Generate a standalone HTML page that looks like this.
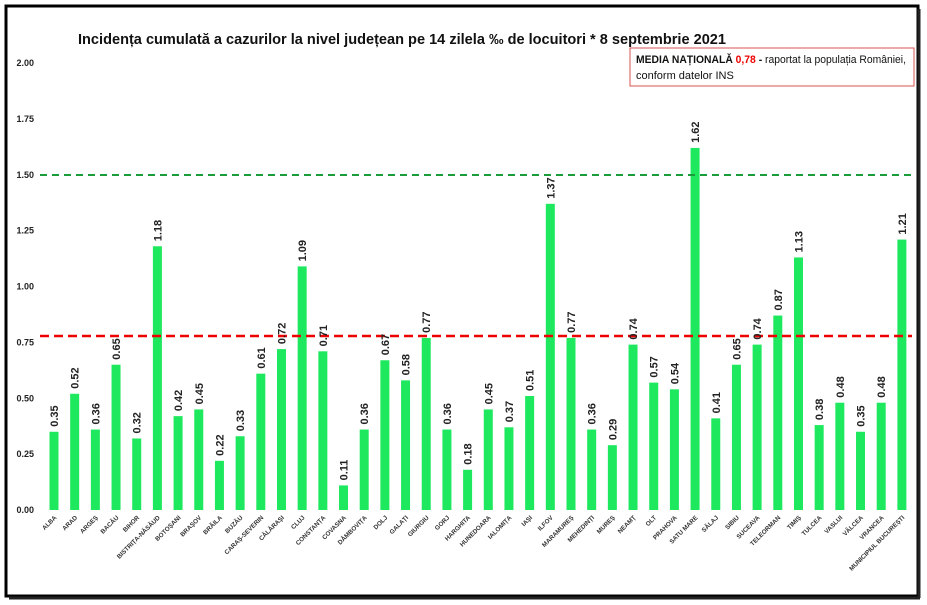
<!DOCTYPE html>
<html><head><meta charset="utf-8"><style>
body{margin:0;background:#fff;}
svg{display:block;font-family:"Liberation Sans",Arial,sans-serif;}
</style></head><body>
<svg width="927" height="605" viewBox="0 0 927 605">
<rect x="0" y="0" width="927" height="605" fill="#fff"/>
<rect x="6" y="6" width="912" height="590" fill="none" stroke="#000" stroke-width="3"/>
<line x1="919" y1="9" x2="919" y2="598" stroke="#222" stroke-width="3"/>
<line x1="9" y1="598" x2="920" y2="598" stroke="#222" stroke-width="3"/>
<text x="78" y="44" font-size="15" font-weight="bold" fill="#111" textLength="648" lengthAdjust="spacingAndGlyphs">Incidența cumulată a cazurilor la nivel județean pe 14 zilela ‰ de locuitori * 8 septembrie 2021</text>
<rect x="630" y="48" width="284" height="38" fill="#fff" stroke="#d9534f" stroke-width="1"/>
<text x="636" y="63" font-size="11" fill="#111" textLength="270" lengthAdjust="spacingAndGlyphs"><tspan font-weight="bold">MEDIA NAȚIONALĂ </tspan><tspan font-weight="bold" fill="#e00">0,78</tspan><tspan font-weight="bold"> - </tspan>raportat la populația României,</text>
<text x="636" y="79" font-size="11" fill="#111">conform datelor INS</text>
<g font-size="9" font-weight="bold" fill="#222" text-anchor="end" id="yt"></g>
<g id="bars"></g>
<line x1="40" y1="175" x2="912" y2="175" stroke="#1a9c3a" stroke-width="2" stroke-dasharray="7,5"/>
<line x1="40" y1="336" x2="912" y2="336" stroke="#e00" stroke-width="2.5" stroke-dasharray="9,5"/>
<g id="vals"></g>
<g id="labs"></g>
</svg>
<script>
const v=[0.35,0.52,0.36,0.65,0.32,1.18,0.42,0.45,0.22,0.33,0.61,0.72,1.09,0.71,0.11,0.36,0.67,0.58,0.77,0.36,0.18,0.45,0.37,0.51,1.37,0.77,0.36,0.29,0.74,0.57,0.54,1.62,0.41,0.65,0.74,0.87,1.13,0.38,0.48,0.35,0.48,1.21];
const n=["ALBA","ARAD","ARGEȘ","BACĂU","BIHOR","BISTRIȚA-NĂSĂUD","BOTOȘANI","BRAȘOV","BRĂILA","BUZĂU","CARAȘ-SEVERIN","CĂLĂRAȘI","CLUJ","CONSTANȚA","COVASNA","DÂMBOVIȚA","DOLJ","GALAȚI","GIURGIU","GORJ","HARGHITA","HUNEDOARA","IALOMIȚA","IAȘI","ILFOV","MARAMUREȘ","MEHEDINȚI","MUREȘ","NEAMȚ","OLT","PRAHOVA","SATU MARE","SĂLAJ","SIBIU","SUCEAVA","TELEORMAN","TIMIȘ","TULCEA","VASLUI","VÂLCEA","VRANCEA","MUNICIPIUL BUCUREȘTI"];
const NS="http://www.w3.org/2000/svg";
function el(p,t,a,txt){const e=document.createElementNS(NS,t);for(const k in a)e.setAttribute(k,a[k]);if(txt!=null)e.textContent=txt;document.getElementById(p).appendChild(e);}
const y0=510,sc=223.5;
["0.00","0.25","0.50","0.75","1.00","1.25","1.50","1.75","2.00"].forEach((t,i)=>el("yt","text",{x:34,y:y0-i*0.25*sc+3},t));
v.forEach((d,i)=>{const cx=54+i*20.68,h=d*sc;
el("bars","rect",{x:cx-4.5,y:y0-h,width:9,height:h,fill:"#1ee85e"});
el("vals","text",{transform:`translate(${cx+4},${y0-h-5}) rotate(-90)`,"font-size":"11","font-weight":"bold",fill:"#222"},d.toFixed(2));
el("labs","text",{transform:`translate(${cx+3},${518}) rotate(-45)`,"font-size":"6.3","font-weight":"bold",fill:"#333","text-anchor":"end"},n[i]);
});
</script>
</body></html>
